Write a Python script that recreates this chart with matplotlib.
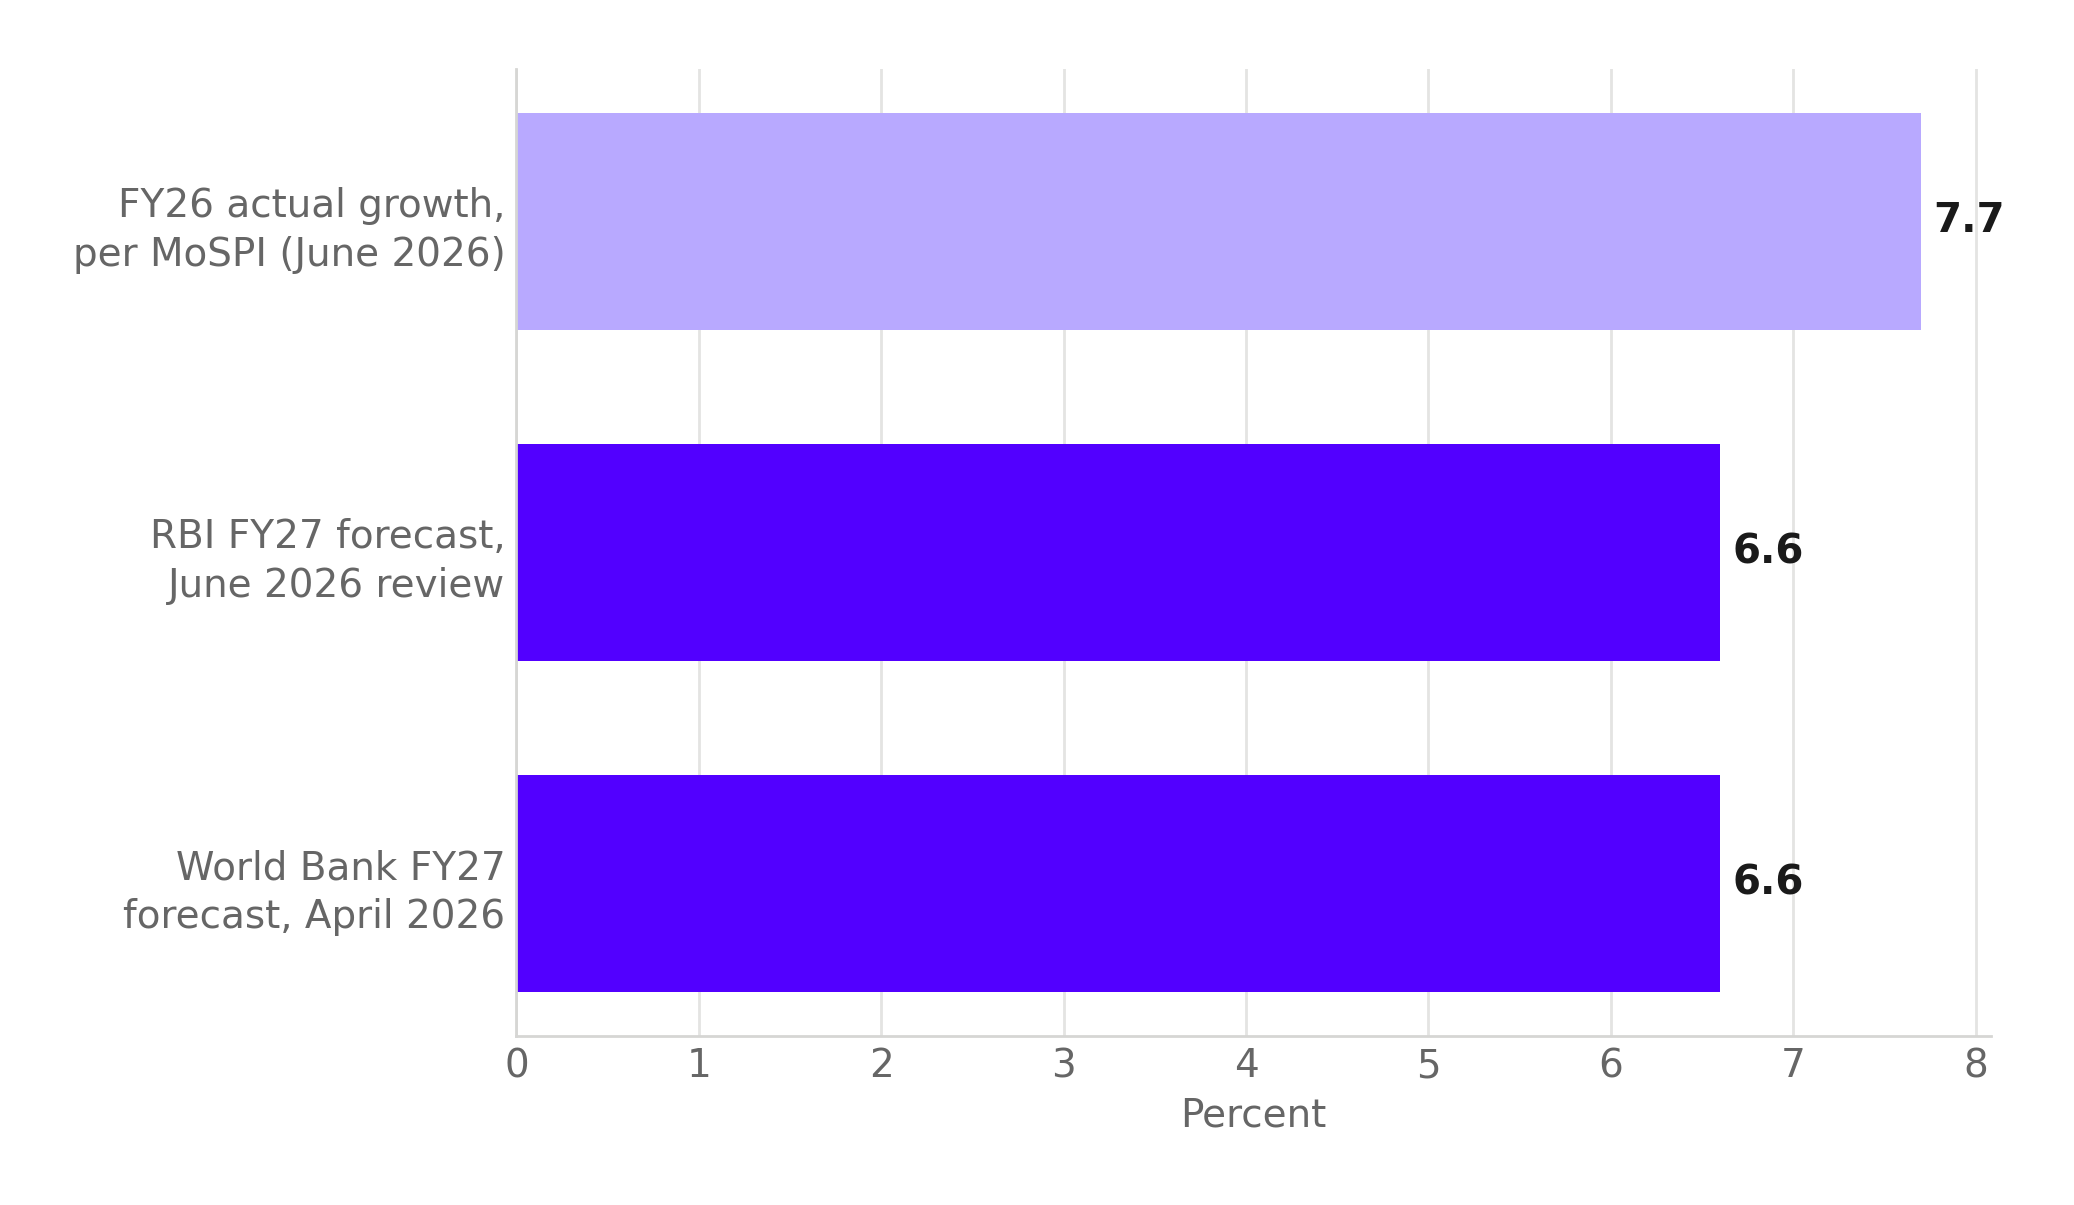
import matplotlib
matplotlib.use("Agg")
import matplotlib.pyplot as plt

# ── data ──────────────────────────────────────────────────────────────────────
labels = [
    "World Bank FY27\nforecast, April 2026",
    "RBI FY27 forecast,\nJune 2026 review",
    "FY26 actual growth,\nper MoSPI (June 2026)",
]
values = [6.6, 6.6, 7.7]
colors = ["#5200FF", "#5200FF", "#B8A9FF"]

GREY = "#666666"
GRID = "#E4E4E2"

fig, ax = plt.subplots(figsize=(10.37, 6.025), dpi=200)
fig.subplots_adjust(left=0.249, right=0.960, top=0.943, bottom=0.140)

ypos = list(range(len(values)))
ax.barh(ypos, values, height=0.655, color=colors, zorder=2)

for y, v in zip(ypos, values):
    ax.annotate(f"{v:.1f}", xy=(v, y), xytext=(4.5, 0), textcoords="offset points",
                va="center", ha="left", fontsize=14.5, fontweight="bold",
                color="#1a1a1a")

ax.set_yticks(ypos)
ax.set_yticklabels(labels, fontsize=14, color=GREY, linespacing=1.35)
ax.set_xlim(0, 7.7 * 1.05)
ax.set_xticks(range(0, 9))
ax.tick_params(axis="x", labelsize=14, labelcolor=GREY, length=0, pad=4)
ax.tick_params(axis="y", length=0, pad=4)
ax.set_xlabel("Percent", fontsize=14, color=GREY, labelpad=4)

ax.grid(axis="x", color=GRID, lw=1.0, zorder=0)
ax.set_axisbelow(True)
for s in ["top", "right"]:
    ax.spines[s].set_visible(False)
for s in ["left", "bottom"]:
    ax.spines[s].set_color("#D6D6D4")
    ax.spines[s].set_linewidth(1.0)

fig.savefig("out.png", dpi=200)
